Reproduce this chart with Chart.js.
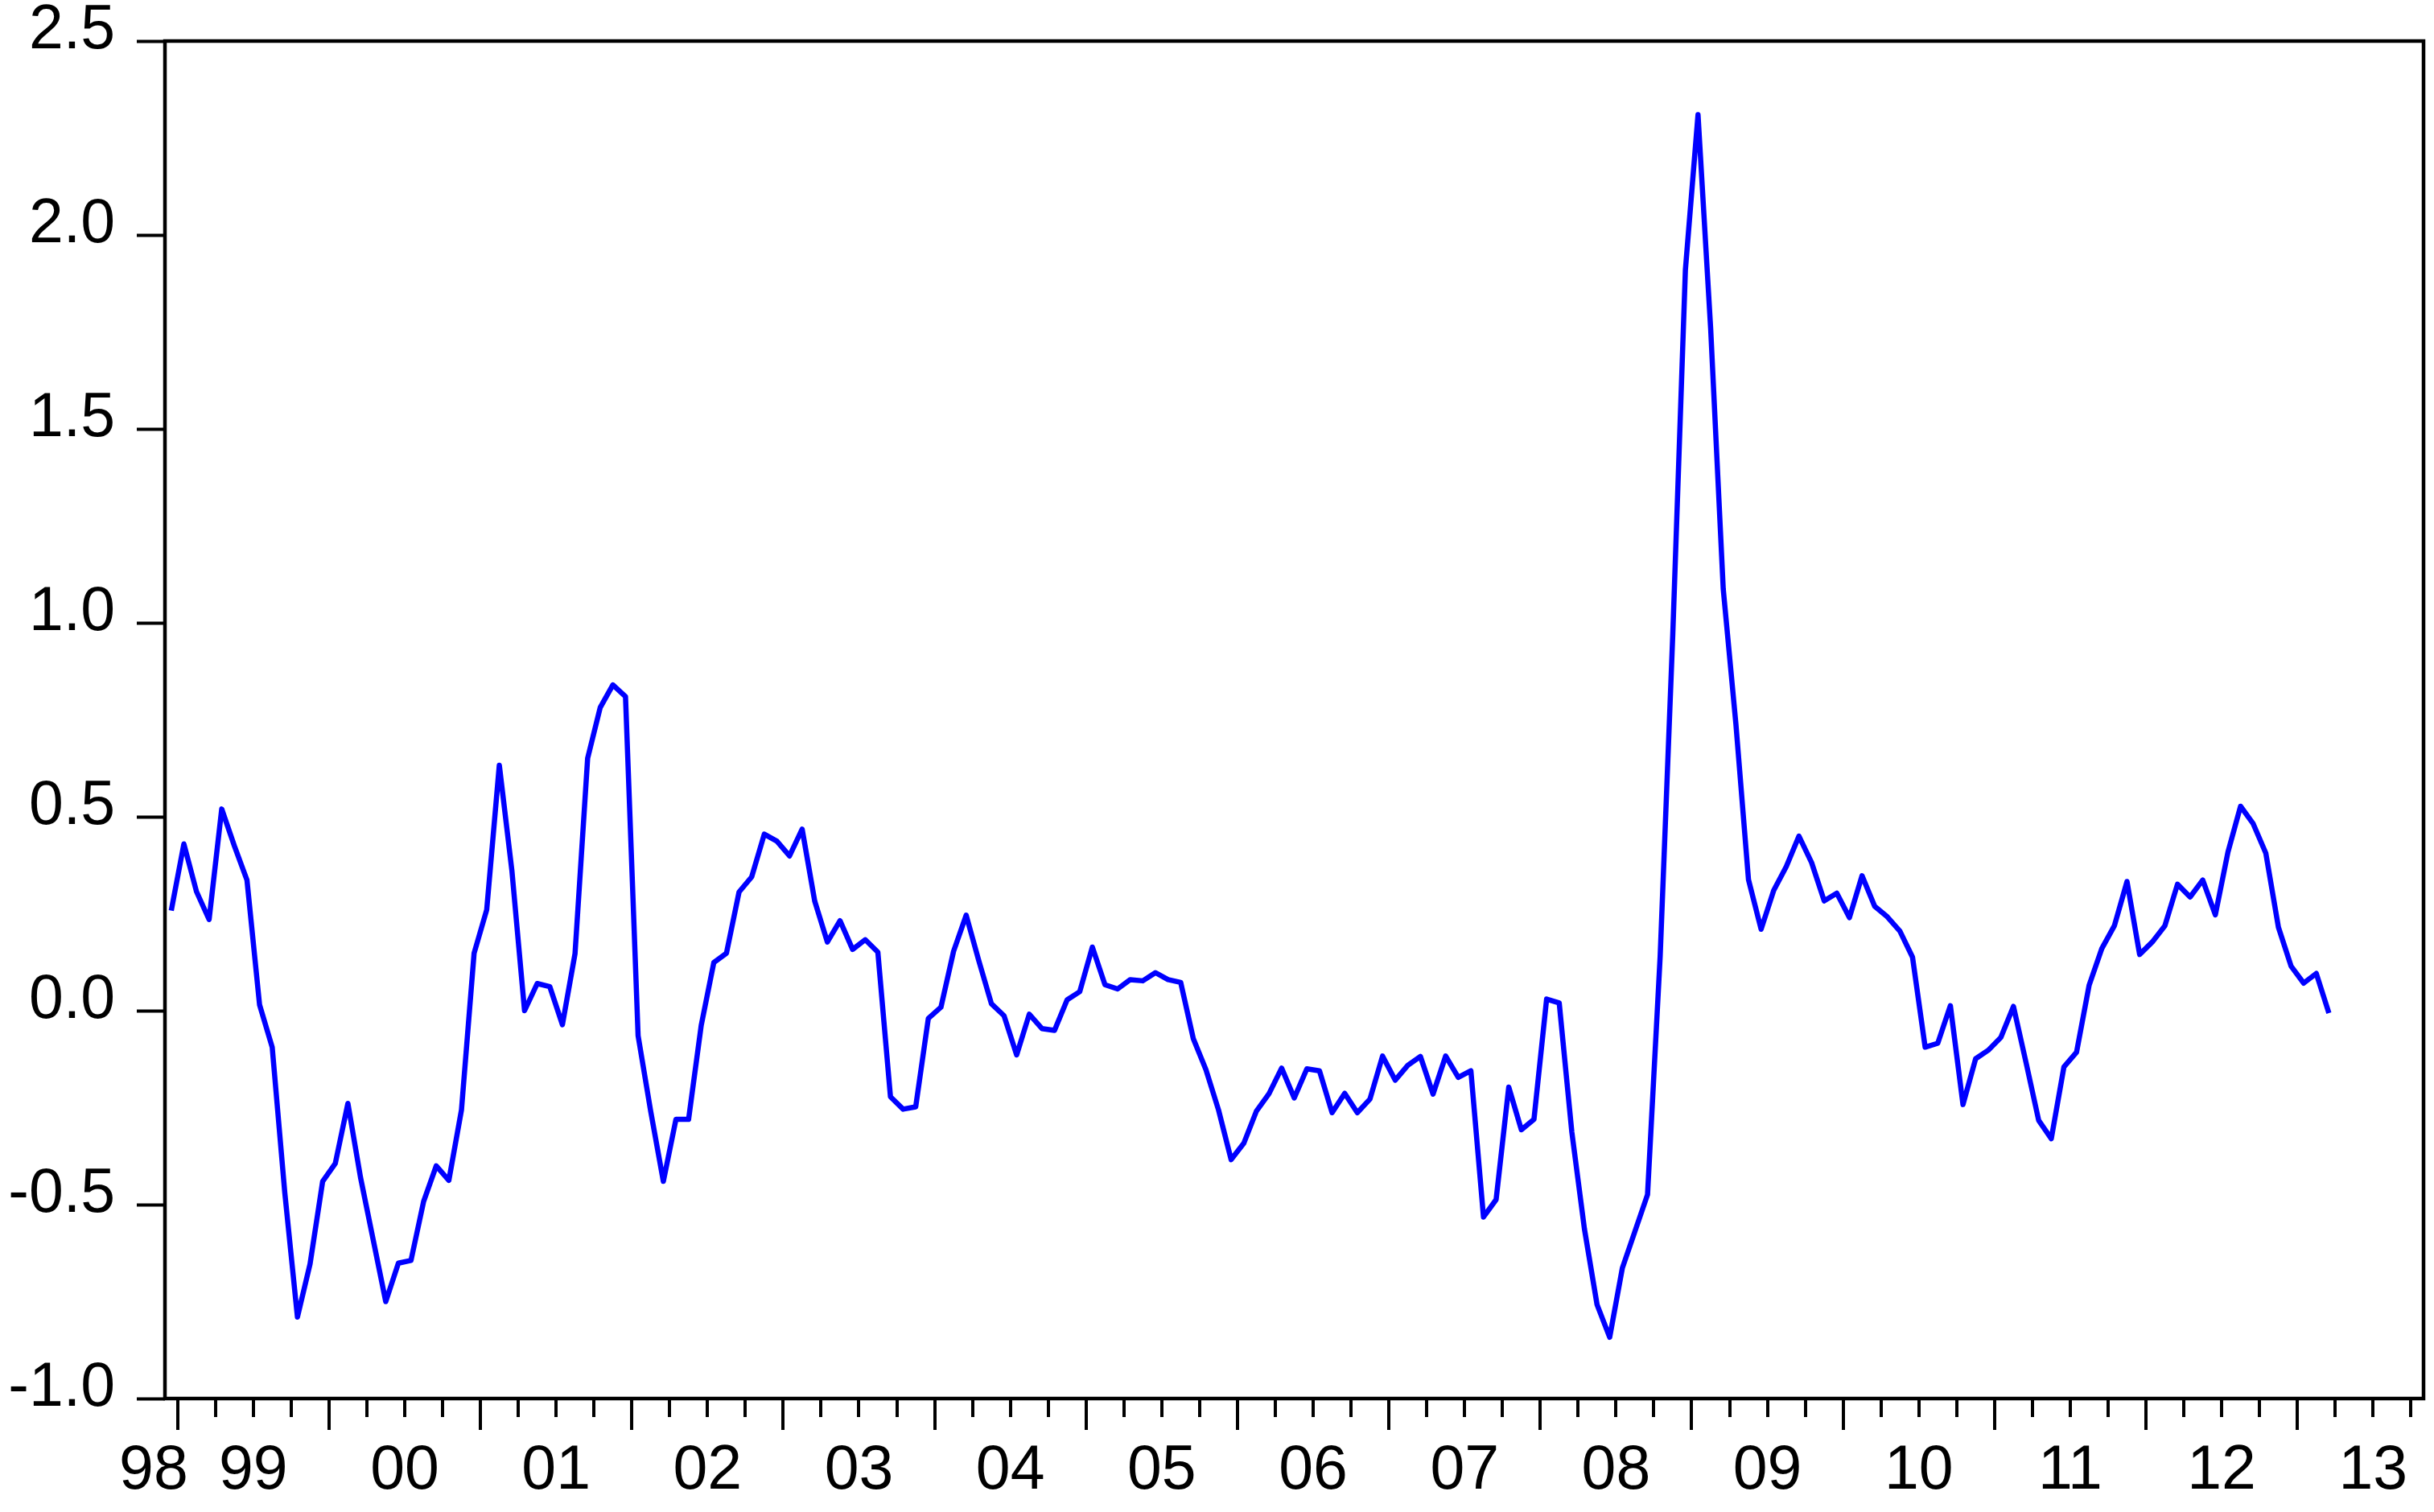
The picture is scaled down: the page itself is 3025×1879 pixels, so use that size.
<!DOCTYPE html>
<html>
<head>
<meta charset="utf-8">
<script src="https://cdn.jsdelivr.net/npm/chart.js@4.4.1/dist/chart.umd.min.js"></script>
<style>
  html, body { margin: 0; padding: 0; background: #fff; }
</style>
</head>
<body>
<canvas id="chart" width="3025" height="1879"></canvas>
<script>
// Monthly series, 1998M12 .. 2013M3 (EViews-style line graph).
const FIRST_YEAR = 1998;
const FIRST_MONTH = 12;
const LAST_SLOT = 178; // axis keeps running to 2013M10 with no data

const values = [
  0.258,                                                                  // 1998
  0.43, 0.307, 0.235, 0.52, 0.425, 0.337, 0.015, -0.094, -0.47, -0.79, -0.653, -0.44,        // 1999
  -0.394, -0.239, -0.43, -0.59, -0.75, -0.651, -0.644, -0.492, -0.40, -0.4375, -0.256, 0.148, // 2000
  0.26, 0.633, 0.36, 0.0, 0.07, 0.062, -0.036, 0.147, 0.651, 0.782, 0.84, 0.81,                 // 2001
  -0.065, -0.26, -0.44, -0.28, -0.28, -0.038, 0.124, 0.148, 0.306, 0.345, 0.455, 0.437,         // 2002
  0.399, 0.468, 0.282, 0.177, 0.232, 0.158, 0.183, 0.151, -0.222, -0.254, -0.248, -0.02,        // 2003
  0.009, 0.153, 0.246, 0.129, 0.018, -0.013, -0.114, -0.009, -0.046, -0.051, 0.028, 0.049,      // 2004
  0.164, 0.067, 0.056, 0.08, 0.077, 0.098, 0.08, 0.073, -0.072, -0.152, -0.256, -0.384,         // 2005
  -0.342, -0.259, -0.214, -0.148, -0.225, -0.15, -0.155, -0.263, -0.213, -0.263, -0.228, -0.117, // 2006
  -0.179, -0.141, -0.118, -0.215, -0.117, -0.172, -0.155, -0.532, -0.487, -0.197, -0.307, -0.28, // 2007
  0.03, 0.02, -0.313, -0.563, -0.758, -0.842, -0.664, -0.569, -0.474, 0.14, 0.97, 1.91,         // 2008
  2.31, 1.76, 1.087, 0.74, 0.338, 0.21, 0.31, 0.372, 0.45, 0.382, 0.283, 0.303,                 // 2009
  0.24, 0.348, 0.269, 0.242, 0.205, 0.138, -0.094, -0.084, 0.013, -0.242, -0.124, -0.102,       // 2010
  -0.069, 0.011, -0.134, -0.283, -0.33, -0.145, -0.107, 0.066, 0.16, 0.219, 0.333, 0.145,       // 2011
  0.177, 0.219, 0.326, 0.293, 0.337, 0.247, 0.409, 0.527, 0.482, 0.406, 0.215, 0.115,           // 2012
  0.071, 0.096, -0.006                                                    // 2013
];

const yearLabels = ["98", "99", "00", "01", "02", "03", "04", "05", "06", "07", "08", "09", "10", "11", "12", "13"];
const yTicks = [-1.0, -0.5, 0.0, 0.5, 1.0, 1.5, 2.0, 2.5];

const FONT = { family: '"Liberation Sans", Arial, sans-serif', size: 77 };

// slot index of January of a given year (slot 0 = first month of the sample)
function janSlot(year) {
  return 12 * (year - FIRST_YEAR) - (FIRST_MONTH - 1);
}

// year labels sit over the middle of each year; the clipped first year is
// pushed just left of the first January tick, like EViews does
const yearLabelPos = yearLabels.map((_, i) => {
  const centre = janSlot(FIRST_YEAR + i) + 5.5;
  return i === 0 ? janSlot(FIRST_YEAR + 1) - 2.4 : centre;
});

const points = values.map((v, i) => ({ x: i, y: v }));

// box around the plot plus quarterly/yearly tick marks under it
const framePlugin = {
  id: "frame",
  afterDraw(chart) {
    const { ctx, chartArea: a, scales } = chart;
    const xs = scales.x;
    ctx.save();
    ctx.strokeStyle = "#000";
    ctx.lineWidth = 4;
    for (let k = 0; k <= LAST_SLOT; k++) {
      const month = (FIRST_MONTH - 1 + k) % 12;
      if (month % 3 !== 0) continue;
      const px = Math.round(xs.getPixelForValue(k - 0.5));
      const len = month === 0 ? 39 : 23;
      ctx.beginPath();
      ctx.moveTo(px, a.bottom);
      ctx.lineTo(px, a.bottom + len);
      ctx.stroke();
    }
    ctx.lineWidth = 4.5;
    ctx.strokeRect(a.left, a.top, a.right - a.left, a.bottom - a.top);
    ctx.restore();
  }
};

// no label overflow padding: the plot box is placed by layout.padding alone
function noPadding(s) {
  s.paddingLeft = 0;
  s.paddingRight = 0;
  s.paddingTop = 0;
  s.paddingBottom = 0;
}

new Chart(document.getElementById("chart"), {
  type: "line",
  data: {
    datasets: [{
      data: points,
      borderColor: "#0000ff",
      borderWidth: 6.5,
      pointRadius: 0,
      tension: 0,
      fill: false,
      borderJoinStyle: "round"
    }]
  },
  options: {
    responsive: false,
    animation: false,
    layout: { padding: { top: 51, right: 13, left: 0, bottom: 0 } },
    plugins: { legend: { display: false }, tooltip: { enabled: false } },
    scales: {
      x: {
        type: "linear",
        min: -0.5,
        max: LAST_SLOT + 0.5,
        grid: { display: false, drawTicks: false },
        border: { display: false },
        afterBuildTicks: (s) => { s.ticks = yearLabelPos.map((v) => ({ value: v })); },
        afterFit: (s) => { s.height = 141; noPadding(s); },
        ticks: {
          autoSkip: false,
          maxRotation: 0,
          padding: 45,
          color: "#000",
          font: FONT,
          callback: (v, i) => yearLabels[i]
        }
      },
      y: {
        min: -1.0,
        max: 2.5,
        afterBuildTicks: (s) => { s.ticks = yTicks.map((v) => ({ value: v })); },
        afterFit: (s) => { s.width = 205; noPadding(s); },
        grid: { drawOnChartArea: false, tickLength: 35, tickWidth: 4, tickColor: "#000" },
        border: { display: false },
        ticks: {
          padding: 27,
          labelOffset: -12,
          color: "#000",
          font: FONT,
          callback: (v) => v.toFixed(1)
        }
      }
    }
  },
  plugins: [framePlugin]
});
</script>
</body>
</html>
